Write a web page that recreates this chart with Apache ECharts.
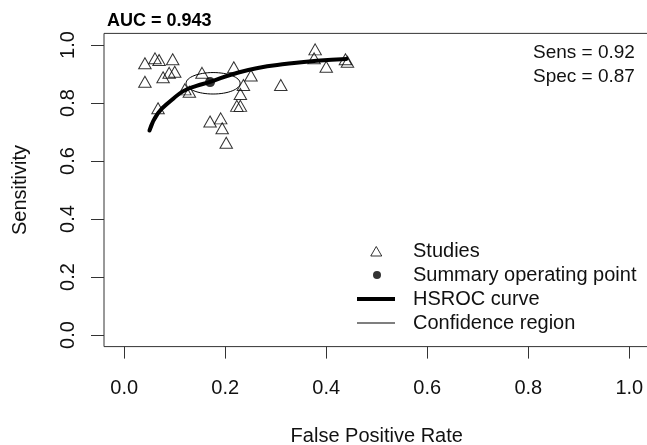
<!DOCTYPE html>
<html>
<head>
<meta charset="utf-8">
<script src="https://cdn.jsdelivr.net/npm/echarts@6/dist/echarts.min.js"></script>
<style>
  html, body { margin: 0; padding: 0; background: #fff; }
  #chart { width: 647px; height: 445px; }
</style>
</head>
<body>
<div id="chart"></div>
<script>
// studies (false positive rate, sensitivity)
var studyFpr = [0.041, 0.061, 0.069, 0.096, 0.041, 0.077, 0.089, 0.100, 0.067, 0.120,
  0.129, 0.154, 0.170, 0.191, 0.194, 0.202, 0.217, 0.251, 0.236, 0.230,
  0.223, 0.230, 0.310, 0.378, 0.376, 0.400, 0.438, 0.442];
var studySens = [0.937, 0.954, 0.948, 0.951, 0.873, 0.889, 0.904, 0.908, 0.782, 0.847,
  0.839, 0.904, 0.736, 0.747, 0.713, 0.663, 0.923, 0.895, 0.862, 0.831,
  0.790, 0.790, 0.862, 0.985, 0.954, 0.925, 0.951, 0.942];

// HSROC curve
var curveFpr = [0.050, 0.067, 0.094, 0.117, 0.143, 0.170, 0.216, 0.262, 0.322, 0.381, 0.440];
var curveSens = [0.705, 0.765, 0.810, 0.841, 0.859, 0.873, 0.900, 0.920, 0.935, 0.946, 0.952];

// summary point and confidence region (centre x, centre y, half width, half height)
var summaryPoint = [0.170, 0.872];
var region = [0.176, 0.868, 0.0535, 0.037];

var tickVals = [0, 0.2, 0.4, 0.6, 0.8, 1.0];

var chart = echarts.init(document.getElementById('chart'));

var font = 'Liberation Sans, Arial, sans-serif';

var option = {
  animation: false,
  backgroundColor: '#fff',
  title: [{
    text: 'AUC = 0.943',
    left: 107,
    top: 12,
    padding: 0,
    textStyle: { fontFamily: font, fontSize: 18, fontWeight: 'bold', color: '#000' }
  }, {
    text: 'Sens = 0.92\nSpec = 0.87',
    left: 533,
    top: 41,
    padding: 0,
    textStyle: { fontFamily: font, fontSize: 19, fontWeight: 'normal', color: '#111', lineHeight: 24 }
  }],
  grid: {
    left: 104,
    top: 33.4,
    right: -2.5,
    bottom: 98.4,
    show: true,
    borderColor: '#333',
    borderWidth: 1,
    containLabel: false,
    outerBoundsMode: 'none'
  },
  legend: {
    orient: 'vertical',
    left: 357,
    top: 241,
    itemWidth: 38,
    itemHeight: 12,
    itemGap: 4,
    selectedMode: false,
    padding: 0,
    textStyle: { fontFamily: font, fontSize: 20, color: '#111', padding: [0, 0, 0, 13], lineHeight: 20 },
    data: [
      { name: 'Studies', icon: 'path://M0,0 M0,12 M0.5,11 L6,1.5 L11.5,11 Z',
        itemStyle: { color: 'rgba(0,0,0,0)', borderColor: '#000', borderWidth: 1 } },
      { name: 'Summary operating point', icon: 'path://M0,0 M0,12 M2,6 A4,4 0 1,1 10,6 A4,4 0 1,1 2,6 Z',
        itemStyle: { color: '#000', borderWidth: 0 } },
      { name: 'HSROC curve', icon: 'path://M0,0 M0,12 M0,4 L38,4 L38,8 L0,8 Z',
        itemStyle: { color: '#000', borderWidth: 0 } },
      { name: 'Confidence region', icon: 'path://M0,0 M0,12 M0,5.5 L38,5.5 L38,6.5 L0,6.5 Z',
        itemStyle: { color: '#000', borderWidth: 0 } }
    ]
  },
  xAxis: {
    type: 'value',
    min: -0.04,
    max: 1.04,
    name: 'False Positive Rate',
    nameLocation: 'middle',
    nameGap: 80,
    nameTextStyle: { fontFamily: font, fontSize: 20, color: '#111' },
    axisLine: { show: false, onZero: false },
    axisTick: { show: true, length: 12, customValues: tickVals, lineStyle: { color: '#333' } },
    axisLabel: {
      customValues: tickVals,
      margin: 32,
      fontFamily: font, fontSize: 20, color: '#111',
      formatter: function (v) { return v.toFixed(1); }
    },
    splitLine: { show: false }
  },
  yAxis: {
    type: 'value',
    min: -0.04,
    max: 1.04,
    name: 'Sensitivity',
    nameLocation: 'middle',
    nameGap: 74,
    nameTextStyle: { fontFamily: font, fontSize: 20, color: '#111' },
    axisLine: { show: false, onZero: false },
    axisTick: { show: true, length: 13, customValues: tickVals, lineStyle: { color: '#333' } },
    axisLabel: {
      customValues: tickVals,
      rotate: 90,
      margin: 26,
      fontFamily: font, fontSize: 20, color: '#111',
      formatter: function (v) { return v.toFixed(1); }
    },
    splitLine: { show: false }
  },
  series: [{
    name: 'Studies',
    type: 'scatter',
    symbol: 'triangle',
    symbolSize: [12.5, 11],
    itemStyle: { color: 'rgba(0,0,0,0)', borderColor: '#000', borderWidth: 1 },
    data: studyFpr.map(function (x, i) { return [x, studySens[i]]; })
  }, {
    name: 'HSROC curve',
    type: 'line',
    smooth: true,
    symbol: 'none',
    lineStyle: { color: '#000', width: 4, cap: 'round' },
    data: curveFpr.map(function (x, i) { return [x, curveSens[i]]; })
  }, {
    name: 'Confidence region',
    type: 'custom',
    renderItem: function (params, api) {
      var c = api.coord([api.value(0), api.value(1)]);
      var s = api.size([api.value(2), api.value(3)]);
      return {
        type: 'ellipse',
        shape: { cx: c[0], cy: c[1], rx: s[0], ry: s[1] },
        style: { fill: 'none', stroke: '#000', lineWidth: 1 }
      };
    },
    encode: { x: 0, y: 1 },
    data: [region]
  }, {
    name: 'Summary operating point',
    type: 'scatter',
    symbol: 'circle',
    symbolSize: 10,
    itemStyle: { color: '#000' },
    data: [summaryPoint]
  }]
};

chart.setOption(option);
</script>
</body>
</html>
